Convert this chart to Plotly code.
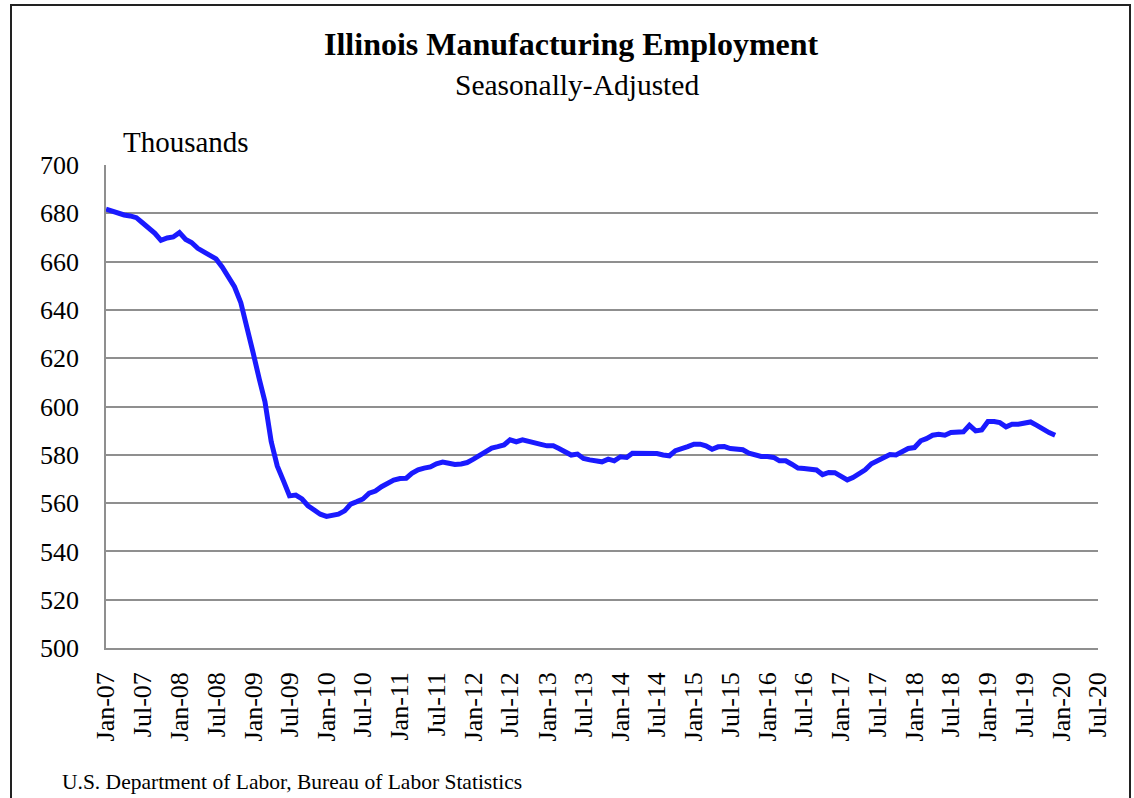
import pandas as pd
import plotly.graph_objects as go

# Monthly series, Jan 2007 through Dec 2019 (thousands of jobs)
start_month = "2007-01-01"
employment = [
    681.7, 680.7, 680.3, 679.3, 678.9, 678.2, 676.1, 674.1, 671.7, 668.8, 669.8, 670.2,
    672.0, 669.2, 667.9, 665.5, 664.1, 663.0, 661.1, 657.7, 653.8, 649.5, 643.0, 633.4,
    622.3, 611.3, 602.0, 585.5, 575.4, 569.2, 563.0, 563.3, 561.7, 558.9, 557.1, 555.4,
    554.5, 555.0, 555.4, 556.8, 559.6, 560.6, 561.7, 564.1, 565.0, 566.8, 568.1, 569.5,
    570.2, 570.3, 572.3, 573.8, 574.5, 575.0, 576.3, 577.0, 576.5, 576.0, 576.2, 576.8,
    578.2, 579.9, 581.4, 582.8, 583.4, 584.1, 586.2, 585.4, 586.2, 585.4, 584.7, 584.3,
    583.7, 583.7, 582.6, 581.0, 579.9, 580.3, 578.5, 577.9, 577.5, 577.1, 578.2, 577.5,
    579.2, 578.9, 580.6, 580.7, 580.7, 580.6, 580.5, 579.9, 579.6, 581.7, 582.3, 583.4,
    584.4, 584.4, 583.7, 582.3, 583.3, 583.4, 582.6, 582.3, 582.1, 580.7, 579.9, 579.3,
    579.3, 578.9, 577.5, 577.5, 576.1, 574.5, 574.3, 574.0, 573.7, 571.8, 572.7, 572.6,
    571.3, 569.6, 570.6, 572.3, 573.8, 576.3, 577.7, 578.7, 580.1, 579.9, 581.0, 582.6,
    583.0, 585.8, 586.7, 588.1, 588.5, 588.1, 589.2, 589.2, 589.5, 592.2, 589.9, 590.3,
    593.8, 593.8, 593.3, 591.6, 592.7, 592.7, 593.0, 593.6, 592.2, 590.5, 589.2, 588.1,
]
months = pd.date_range(start_month, periods=len(employment), freq="MS")

title_text = "<b>Illinois Manufacturing Employment</b>"
subtitle_text = "Seasonally-Adjusted"
unit_text = "Thousands"
source_text = "U.S. Department of Labor, Bureau of Labor Statistics"

y_min, y_max, y_step = 500, 700, 20
x_min, x_max = "2007-01-01", "2020-07-01"

serif = "Liberation Serif"
grid_col = "#8f8f8f"

W, H = 1134, 798
L, R, T, B = 106, 36, 165, 150
pw, ph = W - L - R, H - T - B


def px_x(x):
    return (x - L) / pw


def px_y(y):
    return (H - B - y) / ph


fig = go.Figure()
fig.add_trace(go.Scatter(
    x=months, y=employment, mode="lines",
    line=dict(color="#1a1aff", width=5),
    hoverinfo="x+y", showlegend=False,
))

fig.update_layout(
    width=W, height=H,
    margin=dict(l=L, r=R, t=T, b=B),
    paper_bgcolor="white", plot_bgcolor="white",
    font=dict(family=serif, color="black"),
    xaxis=dict(
        type="date", range=[x_min, x_max],
        tick0=x_min, dtick="M6", tickformat="%b-%y", tickangle=-90,
        tickfont=dict(family=serif, size=26, color="black"),
        showgrid=False, zeroline=False,
        showline=True, linecolor=grid_col, linewidth=1.5,
        ticks="outside", ticklen=12, tickcolor="rgba(0,0,0,0)",
    ),
    yaxis=dict(
        range=[y_min, y_max], dtick=y_step, tick0=y_min,
        tickfont=dict(family=serif, size=26, color="black"),
        showgrid=True, gridcolor=grid_col, gridwidth=1.5,
        zeroline=False,
        showline=True, linecolor=grid_col, linewidth=1.5,
        ticks="outside", ticklen=20, tickcolor="rgba(0,0,0,0)",
    ),
)

# outer chart frame
fig.add_shape(
    type="rect", xref="paper", yref="paper",
    x0=px_x(11), x1=px_x(1130), y0=px_y(805), y1=px_y(5),
    line=dict(color="#222222", width=2), fillcolor="rgba(0,0,0,0)",
    layer="below",
)

fig.add_annotation(
    text=title_text, xref="paper", yref="paper",
    x=px_x(571), y=px_y(44), xanchor="center", yanchor="middle",
    showarrow=False, font=dict(family=serif, size=32, color="black"),
)
fig.add_annotation(
    text=subtitle_text, xref="paper", yref="paper",
    x=px_x(577), y=px_y(85), xanchor="center", yanchor="middle",
    showarrow=False, font=dict(family=serif, size=29.5, color="black"),
)
fig.add_annotation(
    text=unit_text, xref="paper", yref="paper",
    x=px_x(121), y=px_y(142), xanchor="left", yanchor="middle",
    showarrow=False, font=dict(family=serif, size=29, color="black"),
)
fig.add_annotation(
    text=source_text, xref="paper", yref="paper",
    x=px_x(60), y=px_y(782), xanchor="left", yanchor="middle",
    showarrow=False, font=dict(family=serif, size=21.5, color="black"),
)

fig.write_html("out.html")
